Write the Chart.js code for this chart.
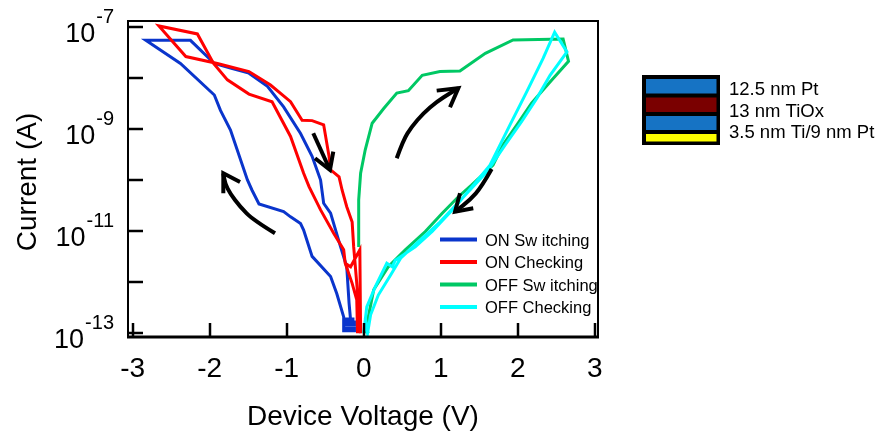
<!DOCTYPE html>
<html><head><meta charset="utf-8">
<script src="https://cdn.jsdelivr.net/npm/chart.js@4/dist/chart.umd.min.js"></script>
<style>html,body{margin:0;padding:0;background:#fff;}#wrap{width:880px;height:434px;}</style>
</head><body><div id="wrap"><canvas id="c" width="880" height="434"></canvas></div>
<script>
// ---------- data ----------
const seriesLabels = ['ON Sw itching', 'ON Checking', 'OFF Sw itching', 'OFF Checking'];

const onSwV = [-0.17, -0.19, -0.22, -0.30, -0.43, -0.52, -0.56, -0.67, -0.82, -1.04, -1.25, -1.49, -1.73, -1.94, -2.25, -2.83, -2.38, -1.94, -1.86, -1.73, -1.51, -1.45, -1.36, -1.04, -0.95, -0.82, -0.78, -0.67, -0.43, -0.35, -0.26, -0.26, -0.12, -0.12, -0.26, -0.26, -0.12, -0.12, -0.26, -0.26, -0.12];
const onSwI = [1.82e-13, 3.9e-13, 2.0e-12, 4.9e-12, 2.24e-11, 3.5e-11, 1.0e-10, 2.9e-10, 8.1e-10, 2.7e-9, 6.8e-9, 1.23e-8, 1.55e-8, 1.9e-8, 5.4e-8, 5.4e-8, 1.9e-8, 4.6e-9, 2.3e-9, 9.5e-10, 1.0e-10, 6.3e-11, 3.4e-11, 2.4e-11, 1.9e-11, 1.4e-11, 1.05e-11, 3.2e-12, 1.29e-12, 6.0e-13, 2.1e-13, 1.12e-13, 1.12e-13, 1.26e-13, 1.26e-13, 1.45e-13, 1.45e-13, 1.66e-13, 1.66e-13, 1.9e-13, 1.9e-13];

const onChkV = [-0.08, -0.09, -0.15, -0.24, -0.26, -0.39, -0.56, -0.71, -0.78, -0.95, -1.19, -1.49, -1.77, -1.95, -2.16, -2.66, -2.31, -1.90, -1.49, -1.21, -0.95, -0.80, -0.67, -0.52, -0.45, -0.43, -0.32, -0.28, -0.22, -0.15, -0.13, -0.09, -0.04, -0.05, -0.17, -0.24];
const onChkI = [1.0e-13, 4.5e-13, 9.5e-13, 2.35e-12, 4.3e-12, 9.1e-12, 2.6e-11, 7.4e-11, 1.35e-10, 7.1e-10, 3.4e-9, 4.8e-9, 9.1e-9, 1.9e-8, 7.2e-8, 1.03e-7, 2.6e-8, 1.9e-8, 1.32e-8, 7.2e-9, 3.4e-9, 1.48e-9, 1.45e-9, 1.2e-9, 2.9e-10, 1.58e-10, 1.15e-10, 6.3e-11, 3.0e-11, 1.5e-11, 4.9e-12, 9.5e-13, 1.0e-13, 4.3e-12, 2.0e-12, 2.35e-12];

const offSwV = [-0.065, -0.065, -0.04, 0.02, 0.11, 0.26, 0.43, 0.58, 0.76, 0.99, 1.25, 1.58, 1.94, 2.59, 2.66, 2.42, 2.18, 1.99, 1.81, 1.68, 1.40, 1.23, 1.02, 0.80, 0.54, 0.32, 0.13, 0.06, 0.02];
const offSwI = [4.9e-12, 4.1e-11, 1.35e-10, 3.9e-10, 1.29e-9, 2.5e-9, 5.0e-9, 5.6e-9, 1.12e-8, 1.32e-8, 1.35e-8, 3.0e-8, 5.5e-8, 5.75e-8, 2.1e-8, 8.3e-9, 3.2e-9, 1.2e-9, 4.9e-10, 1.95e-10, 7.9e-11, 4.7e-11, 2.24e-11, 9.8e-12, 4.3e-12, 2.0e-12, 7.1e-13, 2.1e-13, 1.0e-13];

const offChkV = [0.00, 0.04, 0.15, 0.30, 0.37, 0.41, 0.67, 0.89, 1.19, 1.64, 1.90, 2.12, 2.33, 2.48, 2.64, 2.42, 2.25, 2.05, 1.84, 1.60, 1.32, 0.99, 0.74, 0.48, 0.35, 0.19, 0.09, 0.05, 0.02, 0.06];
const offChkI = [1.0e-13, 3.3e-13, 8.1e-13, 2.35e-12, 2.0e-12, 2.7e-12, 4.9e-12, 9.8e-12, 3.0e-11, 1.95e-10, 1.2e-9, 5.4e-9, 2.4e-8, 7.8e-8, 3.2e-8, 1.12e-8, 4.0e-9, 1.38e-9, 4.9e-10, 1.45e-10, 5.1e-11, 1.5e-11, 6.8e-12, 2.95e-12, 1.38e-12, 5.6e-13, 2.3e-13, 1.0e-13, 2.0e-13, 1.0e-13];

const xTickValues = [-3, -2, -1, 0, 1, 2, 3];
const xTickLabels = ['-3', '-2', '-1', '0', '1', '2', '3'];
const yTickExps = [-7, -8, -9, -10, -11, -12, -13];
const yLabelExps = [-7, -9, -11, -13];
const xTitle = 'Device Voltage (V)';
const yTitle = 'Current (A)';
const layerLabels = ['12.5 nm Pt', '13 nm TiOx', '3.5 nm Ti/9 nm Pt'];

// sweep-direction arrows (voltage, current)
const arrowShaftV = [[-0.655, -0.438], [-1.152, -1.434, -1.606, -1.736, -1.801, -1.823], [0.429, 0.514, 0.623, 0.774, 0.948, 1.121, 1.229], [1.662, 1.532, 1.381, 1.186]];
const arrowShaftI = [[8.2e-10, 1.57e-10], [9.06e-12, 1.65e-11, 3.0e-11, 5.5e-11, 8.6e-11, 1.35e-10], [2.66e-10, 6.07e-10, 1.1e-9, 2.02e-9, 3.4e-9, 4.98e-9, 6.24e-9], [1.64e-10, 7.4e-11, 4.06e-11, 2.4e-11]];
const arrowHeadV = [[-0.632, -0.438, -0.395], [-1.823, -1.823, -1.606], [0.948, 1.229, 1.121], [1.251, 1.186, 1.423]];
const arrowHeadI = [[2.66e-10, 1.57e-10, 3.58e-10], [5.5e-11, 1.35e-10, 9.1e-11], [5.6e-9, 6.24e-9, 2.65e-9], [5.5e-11, 2.4e-11, 2.8e-11]];

// ---------- styling ----------
const FONT = '"Liberation Sans", Arial, Helvetica, sans-serif';
const colors = ['#0a35cc', '#ff0000', '#00c864', '#00ffff'];
const layerColors = ['#1673c4', '#7a0000', '#1673c4', '#ffff00'];

const pts = (vs, is) => vs.map((v, k) => ({x: v, y: is[k]}));
const seriesData = [pts(onSwV, onSwI), pts(onChkV, onChkI), pts(offSwV, offSwI), pts(offChkV, offChkI)];
const drawOrder = [3, 2, 1, 0];

const decor = {
  id: 'decor',
  afterDatasetsDraw(chart) {
    const {ctx, chartArea: a, scales: {x, y}} = chart;
    ctx.save();
    ctx.strokeStyle = '#000';
    ctx.fillStyle = '#000';
    ctx.lineCap = 'butt';

    // arrows
    ctx.lineWidth = 4;
    ctx.lineJoin = 'miter';
    for (let k = 0; k < arrowShaftV.length; k++) {
      const P = arrowShaftV[k].map((v, j) => [x.getPixelForValue(v), y.getPixelForValue(arrowShaftI[k][j])]);
      ctx.beginPath();
      ctx.moveTo(P[0][0], P[0][1]);
      if (P.length === 2) ctx.lineTo(P[1][0], P[1][1]);
      else {
        for (let j = 1; j < P.length - 1; j++) {
          const mx = (P[j][0] + P[j + 1][0]) / 2, my = (P[j][1] + P[j + 1][1]) / 2;
          ctx.quadraticCurveTo(P[j][0], P[j][1], mx, my);
        }
        ctx.lineTo(P[P.length - 1][0], P[P.length - 1][1]);
      }
      ctx.stroke();
      const H = arrowHeadV[k].map((v, j) => [x.getPixelForValue(v), y.getPixelForValue(arrowHeadI[k][j])]);
      ctx.beginPath();
      ctx.moveTo(H[0][0], H[0][1]);
      ctx.lineTo(H[1][0], H[1][1]);
      ctx.lineTo(H[2][0], H[2][1]);
      ctx.stroke();
    }

    // frame
    ctx.lineWidth = 2;
    ctx.strokeRect(a.left, a.top, a.right - a.left, a.bottom - a.top);
    ctx.lineWidth = 3;
    ctx.beginPath(); ctx.moveTo(a.left - 1, a.bottom); ctx.lineTo(a.right + 1, a.bottom); ctx.stroke();

    // inward ticks
    ctx.lineWidth = 2.5;
    yTickExps.forEach(e => {
      const py = Math.round(y.getPixelForValue(Math.pow(10, e)));
      ctx.beginPath(); ctx.moveTo(a.left, py); ctx.lineTo(a.left + 15, py); ctx.stroke();
    });
    xTickValues.forEach(v => {
      const px = Math.round(x.getPixelForValue(v));
      ctx.beginPath(); ctx.moveTo(px, a.bottom); ctx.lineTo(px, a.bottom - 14); ctx.stroke();
    });

    // x tick labels
    ctx.font = '28px ' + FONT;
    ctx.textAlign = 'center';
    ctx.textBaseline = 'alphabetic';
    xTickValues.forEach((v, k) => ctx.fillText(xTickLabels[k], x.getPixelForValue(v), a.bottom + 40));

    // y tick labels with superscript exponent
    yLabelExps.forEach(e => {
      const py = y.getPixelForValue(Math.pow(10, e));
      const base = py + 15;
      const right = a.left - 14;
      ctx.textAlign = 'right';
      ctx.font = '20px ' + FONT;
      const sup = String(e);
      const sw = ctx.measureText(sup).width;
      ctx.fillText(sup, right, base - 19);
      ctx.font = '27px ' + FONT;
      ctx.fillText('10', right - sw - 1, base);
    });

    // axis titles
    ctx.font = '28px ' + FONT;
    ctx.textAlign = 'center';
    ctx.fillText(xTitle, (a.left + a.right) / 2, a.bottom + 88);
    ctx.save();
    ctx.translate(36, (a.top + a.bottom) / 2 + 3);
    ctx.rotate(-Math.PI / 2);
    ctx.fillText(yTitle, 0, 0);
    ctx.restore();

    // legend inside plot
    ctx.font = '16.5px ' + FONT;
    ctx.textAlign = 'left';
    chart.data.datasets.forEach((ds, k) => {
      const cy = 239.5 + k * 22.5;
      ctx.strokeStyle = ds.borderColor;
      ctx.lineWidth = 4;
      ctx.beginPath(); ctx.moveTo(440, cy); ctx.lineTo(477, cy); ctx.stroke();
      ctx.fillStyle = '#000';
      ctx.fillText(ds.label, 485, cy + 6);
    });

    // layer stack diagram
    ctx.fillStyle = '#000';
    ctx.fillRect(642, 75, 78, 70);
    const layerY = [79, 97.5, 116, 134];
    const layerH = [14.5, 14.5, 14, 7.5];
    layerColors.forEach((c, k) => {
      ctx.fillStyle = c;
      ctx.fillRect(646, layerY[k], 70.5, layerH[k]);
    });
    ctx.fillStyle = '#000';
    ctx.font = '18.5px ' + FONT;
    ctx.textAlign = 'left';
    const labelBase = [95, 116.5, 137.5];
    layerLabels.forEach((t, k) => ctx.fillText(t, 729, labelBase[k]));

    ctx.restore();
  }
};

new Chart(document.getElementById('c'), {
  type: 'scatter',
  data: {
    datasets: seriesData.map((d, k) => ({
      label: seriesLabels[k],
      data: d,
      showLine: true,
      borderColor: colors[k],
      backgroundColor: colors[k],
      borderWidth: 3,
      pointRadius: 0,
      pointHoverRadius: 0,
      tension: 0,
      order: drawOrder[k]
    }))
  },
  options: {
    responsive: false,
    animation: false,
    devicePixelRatio: 1,
    layout: {padding: {left: 128, top: 21, right: 282, bottom: 97}},
    plugins: {legend: {display: false}, tooltip: {enabled: false}, title: {display: false}},
    scales: {
      x: {type: 'linear', min: -3.061, max: 3.043, display: false},
      y: {type: 'logarithmic', min: 8.47e-14, max: 1.29e-7, display: false}
    }
  },
  plugins: [decor]
});
</script>
</body></html>
